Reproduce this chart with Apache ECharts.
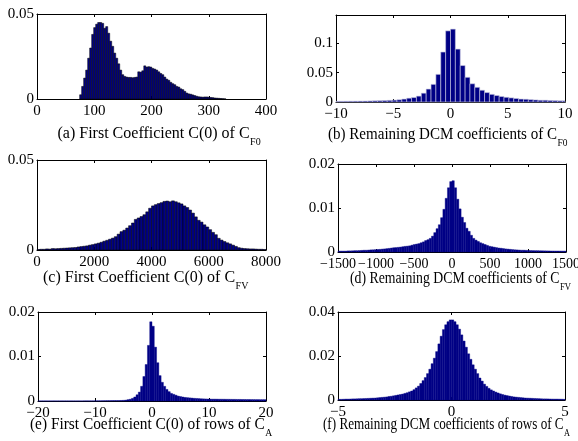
<!DOCTYPE html>
<html><head><meta charset="utf-8">
<script src="https://cdn.jsdelivr.net/npm/echarts@6/dist/echarts.min.js"></script>
<style>html,body{margin:0;padding:0;background:#fff}#c{width:578px;height:441px}</style>
</head><body><div id="c"></div><script>
// ---------------- data ----------------
const xTicksA = [0, 100, 200, 300, 400];
const yTicksA = [0, 0.05];
const aStart = 74.5, aWidth = 3.5;
const aHeights = [0.0025,0.0074,0.0123,0.017,0.024,0.030,0.038,0.042,0.044,0.045,0.045,0.0445,0.0416,0.0426,0.0387,0.034,0.031,0.027,0.024,0.0207,0.017,0.0143,0.0133,0.0129,0.0127,0.0127,0.0125,0.0127,0.0129,0.016,0.0158,0.0166,0.0195,0.0188,0.019,0.0188,0.018,0.0176,0.017,0.016,0.015,0.0143,0.0129,0.0117,0.011,0.0098,0.009,0.0084,0.0074,0.007,0.006,0.0055,0.0045,0.0035,0.003,0.0028,0.0024,0.002,0.0016,0.0013,0.0012,0.0011,0.0012,0.0012,0.0011,0.0009,0.0008,0.0006,0.0005,0.0004,0.0003,0.0002,0.0001];

const xTicksB = [-10, -5, 0, 5, 10];
const yTicksB = [0, 0.05, 0.1];
const bStart = -10.2, bWidth = 0.425;
const bHeights = [0.0011,0.0011,0.0012,0.0013,0.0014,0.0015,0.0016,0.0018,0.002,0.0022,0.0025,0.0028,0.0032,0.0038,
  0.005,0.0065,0.0076,0.010,0.015,0.022,0.030,0.047,0.085,0.121,
  0.124,0.090,0.062,0.042,0.031,0.025,0.020,0.016,0.013,0.011,0.0093,0.008,0.007,0.006,0.005,0.0047,0.004,0.0035,0.003,0.003,0.0026,0.0023,0.002,0.002];

const xTicksC = [0, 2000, 4000, 6000, 8000];
const yTicksC = [0, 0.05];
const cStart = 0, cWidth = 100;
const cHeights = [0.0003,0.0004,0.0004,0.0006,0.0005,0.0008,0.0007,0.0008,0.0009,0.0010,
  0.0011,0.0012,0.0013,0.0014,0.0017,0.0019,0.0021,0.0023,0.0027,0.0030,
  0.0034,0.0038,0.0043,0.0049,0.0054,0.0060,0.0066,0.0074,0.0088,0.0102,
  0.0110,0.0122,0.0135,0.0150,0.0170,0.0178,0.0186,0.0196,0.0212,0.0232,
  0.0245,0.0252,0.0258,0.0263,0.0270,0.0272,0.0268,0.0273,0.0268,0.0262,
  0.0256,0.0245,0.0236,0.0222,0.0205,0.0184,0.0165,0.0155,0.0140,0.0128,
  0.0113,0.0098,0.0085,0.0065,0.0055,0.0047,0.0040,0.0034,0.0027,0.0020,
  0.0013,0.0010,0.0008,0.0007,0.0006,0.0006,0.0005,0.0004,0.0004,0.0003];

const xTicksD = [-1500, -1000, -500, 0, 500, 1000, 1500];
const yTicksD = [0, 0.01, 0.02];
const dStart = -1500, dWidth = 30;
const dHeights = [0.0002,0.0002,0.0002,0.0002,0.00025,0.00025,0.00027,0.0003,0.0003,0.00033,
  0.00036,0.0004,0.0004,0.00044,0.00048,0.0005,0.00053,0.00057,0.0006,0.00066,
  0.0007,0.00076,0.00082,0.0009,0.00097,0.001,0.00106,0.00112,0.0012,0.00128,
  0.00133,0.0014,0.00155,0.0017,0.0018,0.0019,0.0021,0.0023,0.0026,0.0028,
  0.0031,0.0036,0.0044,0.0053,0.0062,0.0078,0.0097,0.0122,0.0146,0.0160,
  0.0162,0.0146,0.0120,0.0098,0.0079,0.0067,0.0054,0.0047,0.0038,0.0031,
  0.0027,0.0024,0.0021,0.0019,0.0017,0.0015,0.0013,0.0012,0.0011,0.001,
  0.0009,0.00085,0.00078,0.0007,0.00065,0.0006,0.00055,0.0005,0.00047,0.00044,
  0.0004,0.0004,0.00037,0.00035,0.00033,0.00031,0.0003,0.0003,0.00028,0.00027,
  0.00026,0.00025,0.00024,0.00023,0.00023,0.00022,0.00022,0.00021,0.0002,0.0002];

const xTicksE = [-20, -10, 0, 10, 20];
const yTicksE = [0, 0.01, 0.02];
const eStart = -20, eWidth = 0.4;
const eHeights = [0.00002,0.00002,0.00002,0.00002,0.00002,0.00002,0.00002,0.00002,0.00002,0.00002,
  0.00002,0.00002,0.00002,0.00002,0.00002,0.00002,0.00002,0.00002,0.00002,0.00002,
  0.00003,0.00003,0.00003,0.00003,0.00003,0.00004,0.00005,0.00005,0.00006,0.00007,
  0.00008,0.00008,0.00009,0.0001,0.0001,0.0001,0.00012,0.00015,0.0002,0.0003,
  0.0004,0.0006,0.0009,0.0014,0.002,0.0033,0.0055,0.0082,0.0125,0.0178,
  0.0168,0.0121,0.0086,0.0057,0.0042,0.0033,0.0026,0.0021,0.0017,0.0015,
  0.0013,0.0011,0.001,0.0009,0.0008,0.00075,0.0007,0.00065,0.0006,0.00057,
  0.00054,0.0005,0.00048,0.00046,0.00044,0.00043,0.00042,0.00042,0.00041,0.0004,
  0.0004,0.00039,0.00038,0.00038,0.00037,0.00036,0.00036,0.00035,0.00035,0.00034,
  0.00034,0.00033,0.00033,0.00032,0.00032,0.00031,0.00031,0.0003,0.0003,0.0003];

const xTicksF = [-5, 0, 5];
const yTicksF = [0, 0.02, 0.04];
const fStart = -5, fWidth = 0.1;
const fHeights = [0.0003,0.0003,0.00035,0.0004,0.0004,0.00045,0.0005,0.0005,0.00055,0.0006,
  0.0006,0.00065,0.0007,0.00075,0.0008,0.00085,0.0009,0.001,0.0011,0.0012,
  0.0013,0.0014,0.0016,0.0017,0.0019,0.0021,0.0023,0.0025,0.0027,0.003,
  0.0033,0.0037,0.0041,0.0047,0.0055,0.0063,0.0075,0.0088,0.0102,0.0120,
  0.0140,0.0165,0.0190,0.0220,0.0255,0.0290,0.0320,0.0342,0.0356,0.0364,
  0.0364,0.0356,0.0342,0.0322,0.0296,0.0268,0.0240,0.0210,0.0185,0.0160,
  0.0140,0.0120,0.0100,0.0086,0.0072,0.0062,0.0053,0.0046,0.0041,0.0036,
  0.0032,0.0028,0.0025,0.0022,0.0020,0.0018,0.0016,0.0014,0.0013,0.0012,
  0.0011,0.001,0.0009,0.00085,0.0008,0.00075,0.0007,0.00065,0.0006,0.00055,
  0.0005,0.0005,0.00048,0.00045,0.00042,0.0004,0.0004,0.00038,0.00035,0.0003];

const captions = [
  ['(a) First Coefficient C(0) of C', 'F0'],
  ['(b) Remaining DCM coefficients of C', 'F0'],
  ['(c) First Coefficient C(0) of C', 'FV'],
  ['(d) Remaining DCM coefficients of C', 'FV'],
  ['(e) First Coefficient C(0) of rows of C', 'A'],
  ['(f) Remaining DCM coefficients of rows of C', 'A']
];

// ---------------- layout / style ----------------
const F = '"Liberation Serif","Times New Roman",serif';
const NAVY = '#000085';
const panels = [
  {grid:{left:37,top:14,width:229,height:85}, xt:xTicksA, yt:yTicksA, yMax:0.05, xf:15, s:aStart, w:aWidth, h:aHeights, stroke:'#000', lw:0.5, cap:{x:57.5,y:134,sx:1.0}},
  {grid:{left:336,top:15,width:229,height:87}, xt:xTicksB, yt:yTicksB, yMax:0.148, xf:15, s:bStart, w:bWidth, h:bHeights, stroke:'#c8c8e0', lw:0.6, cap:{x:328,y:135,sx:0.94}},
  {grid:{left:37,top:160,width:229,height:90}, xt:xTicksC, yt:yTicksC, yMax:0.05, xf:15, s:cStart, w:cWidth, h:cHeights, stroke:'#000', lw:0.5, cap:{x:43,y:278,sx:1.0}},
  {grid:{left:338,top:164,width:228,height:88}, xt:xTicksD, yt:yTicksD, yMax:0.02, xf:14, s:dStart, w:dWidth, h:dHeights, stroke:NAVY, lw:0.4, cap:{x:350,y:279,sx:0.86}},
  {grid:{left:38,top:312,width:228,height:89}, xt:xTicksE, yt:yTicksE, yMax:0.02, xf:15, s:eStart, w:eWidth, h:eHeights, stroke:NAVY, lw:0.4, cap:{x:30,y:425,sx:0.96}},
  {grid:{left:338,top:312,width:227,height:88}, xt:xTicksF, yt:yTicksF, yMax:0.04, xf:15, s:fStart, w:fWidth, h:fHeights, stroke:NAVY, lw:0.4, cap:{x:323,y:425,sx:0.82}}
];

const minus = v => String(v).replace('-', '\u2212');
const lineBlack = {show:true, onZero:false, lineStyle:{color:'#000', width:1}};
const tickIn = {show:true, inside:true, length:3, lineStyle:{color:'#000', width:1}};
const lbl = (show, margin, size) => ({show, margin, fontFamily:F, fontSize:size, color:'#000', hideOverlap:false, interval:0, showMinLabel:true, formatter: minus});

const grids = [], xAxes = [], yAxes = [], series = [];
panels.forEach((p, k) => {
  grids.push(Object.assign({containLabel:false, outerBoundsMode:'none'}, p.grid));
  const xmin = p.xt[0], xmax = p.xt[p.xt.length-1], xint = p.xt[1]-p.xt[0];
  const yint = p.yt[1]-p.yt[0];
  [['bottom', true], ['top', false]].forEach(([pos, show]) => {
    xAxes.push({type:'value', gridIndex:k, position:pos, min:xmin, max:xmax, interval:xint,
      axisLine:lineBlack, axisTick:tickIn, axisLabel:Object.assign(lbl(show, 5, p.xf), {showMaxLabel:true}), splitLine:{show:false}});
  });
  [['left', true], ['right', false]].forEach(([pos, show]) => {
    yAxes.push({type:'value', gridIndex:k, position:pos, min:0, max:p.yMax, interval:yint,
      axisLine:lineBlack, axisTick:tickIn,
      axisLabel:Object.assign(lbl(show, 3, 15), {showMaxLabel: p.yMax === p.yt[p.yt.length-1]}),
      splitLine:{show:false}});
  });
  const data = p.h.map((v, i) => [p.s + i*p.w, p.s + (i+1)*p.w, v]);
  series.push({
    type:'custom', xAxisIndex:2*k, yAxisIndex:2*k, data, encode:{x:[0,1], y:2}, silent:true,
    renderItem: (params, api) => {
      const a = api.coord([api.value(0), api.value(2)]);
      const b = api.coord([api.value(1), 0]);
      const cs = params.coordSys;
      const r = echarts.graphic.clipRectByRect(
        {x:a[0], y:a[1], width:b[0]-a[0], height:b[1]-a[1]},
        {x:cs.x, y:cs.y, width:cs.width, height:cs.height});
      if (!r) return null;
      return {type:'rect', shape:r, style:{fill:NAVY, stroke:p.stroke, lineWidth:p.lw}};
    }
  });
});

// captions: main text + lowered subscript
const mctx = document.createElement('canvas').getContext('2d');
mctx.font = '16px "Liberation Serif"';
const graphic = [];
panels.forEach((p, k) => {
  const mainW = mctx.measureText(captions[k][0]).width * p.cap.sx;
  graphic.push({type:'text', x:p.cap.x, y:p.cap.y, scaleX:p.cap.sx, silent:true,
    style:{text:captions[k][0], font:'16px ' + F, fill:'#000', align:'left', verticalAlign:'middle'}});
  graphic.push({type:'text', x:p.cap.x + mainW + 0.5, y:p.cap.y + 8, scaleX:p.cap.sx, silent:true,
    style:{text:captions[k][1], font:'10px ' + F, fill:'#000', align:'left', verticalAlign:'middle'}});
});

const chart = echarts.init(document.getElementById('c'), null, {renderer:'canvas'});
chart.setOption({animation:false, backgroundColor:'#fff', grid:grids, xAxis:xAxes, yAxis:yAxes, series, graphic});
</script></body></html>
